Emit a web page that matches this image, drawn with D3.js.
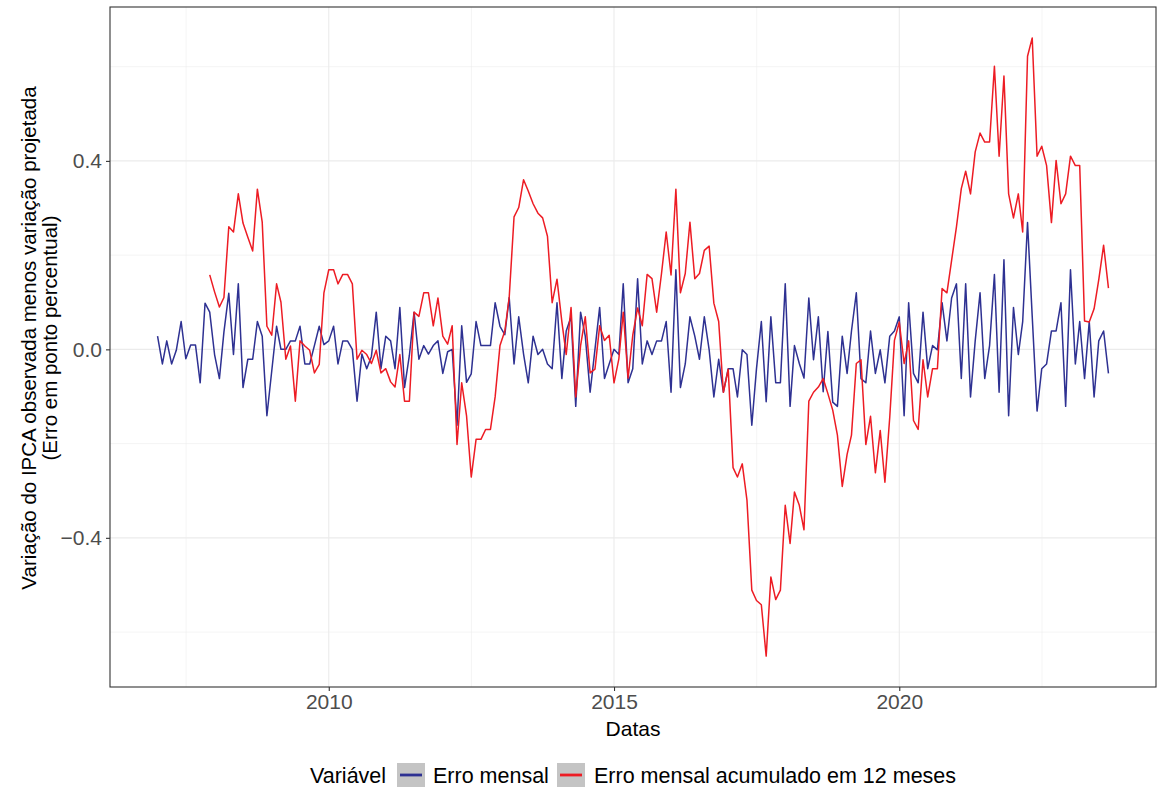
<!DOCTYPE html>
<html>
<head>
<meta charset="utf-8">
<script src="https://d3js.org/d3.v7.min.js"></script>
<style>
	body { margin: 0; background: #fff; }
	text { font-family: "Liberation Sans", Arial, sans-serif; }
</style>
</head>
<body>
<div id="chart"></div>
<script>
	// monthly error, starting Jan 2007
	var mensalStart = [2007, 0];
	var erroMensal = [
		0.028,-0.031,0.018,-0.031,-0.002,0.059,-0.020,0.009,0.009,-0.071,0.098,0.079,
		-0.011,-0.062,0.037,0.119,-0.011,0.139,-0.081,-0.021,-0.021,0.059,0.028,-0.141,
		-0.046,0.049,0.000,0.000,0.018,0.018,0.049,-0.031,-0.031,0.008,0.049,0.010,
		0.018,0.049,-0.031,0.018,0.018,0.000,-0.110,-0.010,-0.041,-0.015,0.079,-0.041,
		0.028,0.018,-0.041,0.089,-0.081,-0.013,0.079,-0.021,0.008,-0.010,0.008,0.018,
		-0.051,-0.005,0.000,-0.161,0.050,-0.070,-0.052,0.059,0.008,0.008,0.008,0.099,
		0.049,0.031,0.110,-0.031,0.069,-0.010,-0.071,0.028,-0.011,0.000,-0.031,-0.041,
		0.099,-0.062,0.039,0.069,-0.121,0.079,0.028,-0.091,0.000,0.089,-0.062,-0.031,
		0.000,-0.011,0.139,-0.071,-0.041,0.150,-0.031,0.018,-0.011,0.018,0.018,0.059,
		-0.091,0.169,-0.081,-0.031,0.069,0.028,-0.021,0.069,-0.001,-0.101,-0.021,-0.091,
		-0.041,-0.041,-0.101,-0.001,-0.011,-0.161,-0.041,0.059,-0.111,0.069,-0.071,-0.071,
		0.139,-0.121,0.008,-0.030,-0.061,0.109,-0.022,0.069,-0.090,0.038,-0.112,-0.121,
		0.028,-0.051,0.039,0.120,-0.062,-0.071,0.039,-0.051,-0.001,-0.071,0.028,0.039,
		0.069,-0.141,0.099,-0.051,-0.071,0.079,-0.041,0.008,-0.001,0.099,0.018,0.109,
		0.139,-0.062,0.139,-0.101,0.018,0.120,-0.062,0.008,0.159,-0.091,0.190,-0.141,
		0.089,-0.011,0.059,0.269,0.070,-0.131,-0.041,-0.031,0.039,0.039,0.099,-0.121,
		0.169,-0.031,0.059,-0.062,0.059,-0.101,0.018,0.039,-0.051
	];

	// 12-month accumulated error, starting Dec 2007
	var acumStart = [2007, 11];
	var erroAcum = [
		0.158,
		0.122,0.090,0.110,0.260,0.249,0.330,0.268,0.238,0.209,0.340,0.270,0.049,
		0.030,0.139,0.100,-0.021,0.007,-0.110,0.018,0.007,-0.002,-0.050,-0.032,0.120,
		0.169,0.169,0.139,0.159,0.159,0.139,-0.021,-0.002,-0.011,-0.030,-0.002,-0.050,
		-0.041,-0.069,-0.080,-0.011,-0.110,-0.110,0.079,0.070,0.120,0.120,0.050,0.109,
		0.028,0.011,0.050,-0.202,-0.071,-0.141,-0.271,-0.191,-0.191,-0.170,-0.170,-0.101,
		0.008,0.039,0.110,0.281,0.301,0.360,0.336,0.309,0.289,0.279,0.240,0.099,
		0.149,0.059,-0.011,0.089,-0.101,0.008,0.069,-0.050,-0.042,0.050,0.019,0.030,
		-0.071,-0.020,0.079,-0.061,0.030,0.088,0.050,0.159,0.150,0.079,0.161,0.249,
		0.158,0.340,0.120,0.161,0.270,0.150,0.161,0.210,0.219,0.098,0.059,-0.091,
		-0.042,-0.251,-0.271,-0.243,-0.320,-0.511,-0.533,-0.542,-0.651,-0.483,-0.531,-0.511,
		-0.331,-0.412,-0.303,-0.331,-0.383,-0.110,-0.091,-0.080,-0.062,-0.094,-0.129,-0.182,
		-0.291,-0.223,-0.182,-0.030,-0.022,-0.202,-0.142,-0.262,-0.172,-0.282,-0.144,0.019,
		0.058,-0.030,0.018,-0.151,-0.170,-0.022,-0.101,-0.041,-0.041,0.129,0.120,0.189,
		0.260,0.341,0.378,0.330,0.419,0.459,0.440,0.440,0.601,0.410,0.580,0.330,
		0.279,0.330,0.249,0.622,0.661,0.410,0.431,0.390,0.269,0.401,0.309,0.330,
		0.410,0.390,0.390,0.060,0.058,0.086,0.148,0.221,0.130
	];

	var yTicks = [-0.4, 0.0, 0.4];
	var yMinor = [-0.6, -0.2, 0.2, 0.6];
	var xTicks = [2010, 2015, 2020];
	var xMinor = [2007.5, 2012.5, 2017.5, 2022.5];

	var seriesNames = ["Erro mensal", "Erro mensal acumulado em 12 meses"];
	var seriesColors = ["#2E3192", "#ED1C24"];

	function toSeries(start, values) {
		var t0 = new Date(Date.UTC(start[0], start[1], 1));
		return values.map(function(v, i) {
			return { date: d3.utcMonth.offset(t0, i), value: v };
		});
	}
	function yearDate(y) {
		var yr = Math.floor(y);
		var a = Date.UTC(yr, 0, 1), b = Date.UTC(yr + 1, 0, 1);
		return new Date(a + (y - yr) * (b - a));
	}

	var series = [toSeries(mensalStart, erroMensal), toSeries(acumStart, erroAcum)];

	var w = 1157, h = 791;
	var m = { left: 110, top: 7, right: 1, bottom: 104 };
	var pw = w - m.left - m.right, ph = h - m.top - m.bottom;

	var svg = d3.select("#chart").append("svg")
		.attr("width", w)
		.attr("height", h);

	// ggplot style 5% expansion
	var allDates = series[0].map(function(d) { return d.date; });
	var xExt = d3.extent(allDates);
	var xPad = (xExt[1] - xExt[0]) * 0.05;
	var x = d3.scaleUtc()
		.domain([new Date(+xExt[0] - xPad), new Date(+xExt[1] + xPad)])
		.range([0, pw]);

	var allVals = erroMensal.concat(erroAcum);
	var yExt = d3.extent(allVals);
	var yPad = (yExt[1] - yExt[0]) * 0.05;
	var y = d3.scaleLinear()
		.domain([yExt[0] - yPad, yExt[1] + yPad])
		.range([ph, 0]);

	var g = svg.append("g").attr("transform", "translate(" + m.left + "," + m.top + ")");

	// grid
	g.selectAll(".ygrid-minor").data(yMinor).enter().append("line")
		.attr("x1", 0).attr("x2", pw)
		.attr("y1", function(d) { return y(d); }).attr("y2", function(d) { return y(d); })
		.attr("stroke", "#EBEBEB").attr("stroke-width", 0.55);
	g.selectAll(".xgrid-minor").data(xMinor).enter().append("line")
		.attr("y1", 0).attr("y2", ph)
		.attr("x1", function(d) { return x(yearDate(d)); }).attr("x2", function(d) { return x(yearDate(d)); })
		.attr("stroke", "#EBEBEB").attr("stroke-width", 0.55);
	g.selectAll(".ygrid").data(yTicks).enter().append("line")
		.attr("x1", 0).attr("x2", pw)
		.attr("y1", function(d) { return y(d); }).attr("y2", function(d) { return y(d); })
		.attr("stroke", "#EBEBEB").attr("stroke-width", 1.1);
	g.selectAll(".xgrid").data(xTicks).enter().append("line")
		.attr("y1", 0).attr("y2", ph)
		.attr("x1", function(d) { return x(yearDate(d)); }).attr("x2", function(d) { return x(yearDate(d)); })
		.attr("stroke", "#EBEBEB").attr("stroke-width", 1.1);

	// lines
	var line = d3.line()
		.x(function(d) { return x(d.date); })
		.y(function(d) { return y(d.value); });

	g.selectAll(".serie").data(series).enter().append("path")
		.attr("d", line)
		.attr("fill", "none")
		.attr("stroke", function(d, i) { return seriesColors[i]; })
		.attr("stroke-width", 1.5)
		.attr("stroke-linejoin", "round");

	// panel border
	g.append("rect")
		.attr("x", 0).attr("y", 0).attr("width", pw).attr("height", ph)
		.attr("fill", "none").attr("stroke", "#333333").attr("stroke-width", 1.1);

	// axes
	var xAxis = d3.axisBottom(x)
		.tickValues(xTicks.map(yearDate))
		.tickFormat(d3.utcFormat("%Y"))
		.tickSize(4).tickPadding(4);
	var gx = g.append("g").attr("transform", "translate(0," + ph + ")").call(xAxis);
	var yAxis = d3.axisLeft(y)
		.tickValues(yTicks)
		.tickFormat(function(d) { return d3.format(".1f")(d).replace("-", "\u2212"); })
		.tickSize(4).tickPadding(4);
	var gy = g.append("g").call(yAxis);
	[gx, gy].forEach(function(a) {
		a.select(".domain").remove();
		a.selectAll(".tick line").attr("stroke", "#333333").attr("stroke-width", 1.1);
		a.selectAll(".tick text").attr("fill", "#4D4D4D")
			.style("font-size", "21px")
			.style("font-family", "'Liberation Sans', Arial, sans-serif");
	});
	gx.selectAll(".tick text").attr("dy", "0.66em");

	// titles
	svg.append("text")
		.attr("x", m.left + pw / 2).attr("y", 736)
		.attr("text-anchor", "middle")
		.style("font-size", "21px")
		.text("Datas");
	var yt = svg.append("text")
		.attr("transform", "translate(36,338) rotate(-90)")
		.attr("text-anchor", "middle")
		.style("font-size", "20.5px");
	yt.append("tspan").attr("x", 0).attr("dy", 0).text("Variação do IPCA observada menos variação projetada");
	yt.append("tspan").attr("x", 0).attr("dy", 21).text("(Erro em ponto percentual)");

	// legend
	var lg = svg.append("g").attr("transform", "translate(0,775)");
	lg.append("text").attr("x", 310).attr("y", 7.5).style("font-size", "21.5px").text("Variável");
	var keyX = [397, 557];
	var labX = [433, 594];
	seriesNames.forEach(function(name, i) {
		lg.append("rect").attr("x", keyX[i]).attr("y", -12).attr("width", 28).attr("height", 24)
			.attr("fill", "#BEBEBE").attr("fill-opacity", 0.9);
		lg.append("line").attr("x1", keyX[i] + 3).attr("x2", keyX[i] + 25)
			.attr("y1", 0).attr("y2", 0)
			.attr("stroke", seriesColors[i]).attr("stroke-width", 2.8);
		lg.append("text").attr("x", labX[i]).attr("y", 7.5).style("font-size", "21.5px").text(name);
	});
</script>
</body>
</html>
